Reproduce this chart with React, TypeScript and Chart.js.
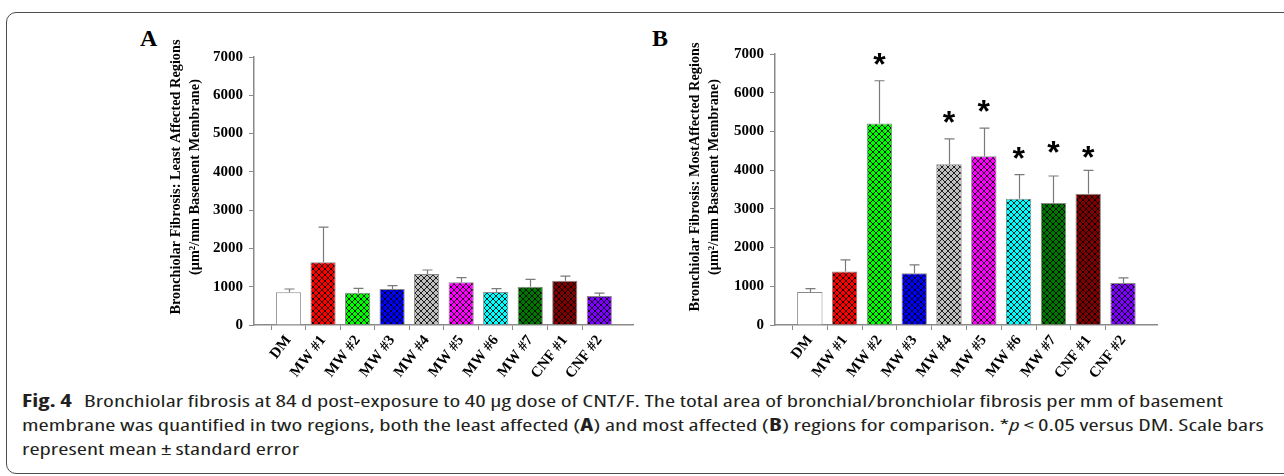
import React, { useEffect, useLayoutEffect, useRef } from 'react';
import { Chart, registerables } from 'chart.js';

Chart.register(...registerables);

// ---------------- data ----------------
const categories = ['DM', 'MW #1', 'MW #2', 'MW #3', 'MW #4', 'MW #5', 'MW #6', 'MW #7', 'CNF #1', 'CNF #2'];
const barColors = ['#ffffff', '#ff0000', '#00ff00', '#0000ff', '#c0c0c0', '#ff00ff', '#00ffff', '#007800', '#800000', '#8000ff'];
const yTickValues = [0, 1000, 2000, 3000, 4000, 5000, 6000, 7000];

// Panel A: least affected regions (mean, standard error)
const leastMeans = [854, 1637, 843, 940, 1332, 1115, 862, 1000, 1157, 757];
const leastSE = [86, 922, 115, 86, 104, 120, 86, 193, 122, 78];

// Panel B: most affected regions (mean, standard error)
const mostMeans = [854, 1382, 5203, 1338, 4152, 4359, 3262, 3150, 3391, 1087];
const mostSE = [88, 301, 1106, 215, 655, 725, 621, 699, 604, 130];
// level (in y units) of the significance asterisks, null = not significant
const mostStars: (number | null)[] = [null, null, 6880, null, 5380, 5660, 4450, 4610, 4460, null];

const titleA = ['Bronchiolar Fibrosis: Least Affected Regions', '(\u03bcm\u00b2/mm Basement Membrane)'];
const titleB = ['Bronchiolar Fibrosis: MostAffected Regions', '(\u03bcm\u00b2/mm Basement Membrane)'];

const SERIF = '"Liberation Serif", "Times New Roman", serif';
const CAPTION_FONT = '"Open Sans", "Noto Sans", sans-serif';

function hatch(color: string): CanvasPattern | string {
  const s = 6;
  const c = document.createElement('canvas');
  c.width = s;
  c.height = s;
  const g = c.getContext('2d');
  if (!g) return color;
  g.fillStyle = color;
  g.fillRect(0, 0, s, s);
  g.strokeStyle = 'rgba(0,0,0,0.85)';
  g.lineWidth = 1;
  g.beginPath();
  for (const k of [-s, 0, s]) {
    g.moveTo(-2 + k, -2);
    g.lineTo(s + 2 + k, s + 2);
    g.moveTo(s + 2 + k, -2);
    g.lineTo(-2 + k, s + 2);
  }
  g.stroke();
  return g.createPattern(c, 'repeat') || color;
}

type PanelProps = {
  means: number[];
  se: number[];
  stars?: (number | null)[];
  title: string[];
  left: number;
  top: number;
  width: number;
  height: number;
  padTop: number;
  axisHeight: number;
  titleX: number;
  titleY: number;
};

function BarPanel(p: PanelProps) {
  const ref = useRef<HTMLCanvasElement>(null);
  useEffect(() => {
    const canvas = ref.current;
    if (!canvas) return;
    const pad = <T,>(a: T[]) => [null, ...a, null];
    const labels = ['', ...categories, ''];
    const bg = ['rgba(0,0,0,0)', ...barColors.map((c, i) => (i === 0 ? c : hatch(c))), 'rgba(0,0,0,0)'];
    const seP = pad(p.se);
    const starsP = pad(p.stars || categories.map(() => null));

    const decorations = {
      id: 'decorations',
      afterDatasetsDraw(chart: any) {
        const ctx = chart.ctx as CanvasRenderingContext2D;
        const y = chart.scales.y;
        const meta = chart.getDatasetMeta(0);
        const data = chart.data.datasets[0].data as (number | null)[];
        ctx.save();
        ctx.strokeStyle = '#7a7a7a';
        ctx.lineWidth = 1.2;
        meta.data.forEach((bar: any, i: number) => {
          const v = data[i];
          const e = seP[i];
          if (v == null || e == null) return;
          const x = Math.round(bar.x) + 0.5;
          const y0 = y.getPixelForValue(v);
          const y1 = y.getPixelForValue(v + e);
          ctx.beginPath();
          ctx.moveTo(x, y0);
          ctx.lineTo(x, y1);
          ctx.moveTo(x - 5, y1);
          ctx.lineTo(x + 5, y1);
          ctx.stroke();
        });
        ctx.fillStyle = '#000';
        ctx.font = 'bold 32px "Liberation Sans", Arial, sans-serif';
        ctx.textAlign = 'center';
        ctx.textBaseline = 'alphabetic';
        const m = ctx.measureText('*');
        const shift = (m.actualBoundingBoxAscent - m.actualBoundingBoxDescent) / 2;
        meta.data.forEach((bar: any, i: number) => {
          const s = starsP[i];
          if (s == null) return;
          ctx.fillText('*', bar.x, y.getPixelForValue(s) + shift);
        });
        ctx.restore();
      },
      afterDraw(chart: any) {
        const ctx = chart.ctx as CanvasRenderingContext2D;
        ctx.save();
        ctx.translate(p.titleX, p.titleY);
        ctx.rotate(-Math.PI / 2);
        ctx.fillStyle = '#000';
        ctx.font = `bold 14.3px ${SERIF}`;
        ctx.textAlign = 'center';
        ctx.textBaseline = 'middle';
        p.title.forEach((t, i) => ctx.fillText(t, 0, i * 19));
        ctx.restore();
      },
    };

    const chart = new Chart(canvas, {
      type: 'bar',
      data: {
        labels,
        datasets: [
          {
            data: pad(p.means) as any,
            backgroundColor: bg as any,
            borderColor: '#8a8a8a',
            borderWidth: 1,
            barPercentage: 0.73,
            categoryPercentage: 1,
          },
        ],
      },
      options: {
        responsive: false,
        animation: false,
        devicePixelRatio: 1,
        layout: { padding: { top: p.padTop, right: 13, bottom: 0, left: 0 } },
        plugins: { legend: { display: false }, tooltip: { enabled: false }, title: { display: false } },
        scales: {
          x: {
            type: 'category',
            offset: false,
            afterFit: (s: any) => {
              s.height = p.axisHeight;
            },
            border: { display: true, color: '#8a8a8a', width: 1.5 },
            grid: {
              drawOnChartArea: false,
              drawTicks: true,
              tickLength: 5,
              color: (c: any) => (c.index === 0 || c.index === labels.length - 1 ? 'rgba(0,0,0,0)' : '#8a8a8a'),
            },
            ticks: {
              autoSkip: false,
              maxRotation: 52,
              minRotation: 52,
              padding: 2,
              color: '#000',
              font: { family: SERIF, size: 15, weight: 'bold' },
            },
          },
          y: {
            min: 0,
            max: 7000,
            afterFit: (s: any) => {
              s.width = 124;
            },
            afterBuildTicks: (s: any) => {
              s.ticks = yTickValues.map((v) => ({ value: v }));
            },
            border: { display: true, color: '#8a8a8a', width: 1.5 },
            grid: { drawOnChartArea: false, drawTicks: true, tickLength: 5, color: '#8a8a8a' },
            ticks: {
              padding: 6,
              color: '#000',
              font: { family: SERIF, size: 15, weight: 'bold' },
              callback: (v: any) => String(v),
            },
          },
        },
      },
      plugins: [decorations],
    });
    return () => chart.destroy();
  }, []);
  return (
    <canvas
      ref={ref}
      width={p.width}
      height={p.height}
      style={{ position: 'absolute', left: p.left, top: p.top, width: p.width, height: p.height }}
    />
  );
}

const captionLines = [
  <>
    <b>Fig. 4</b>
    {'\u2002Bronchiolar fibrosis at 84 d post-exposure to 40 \u03bcg dose of CNT/F. The total area of bronchial/bronchiolar fibrosis per mm of basement'}
  </>,
  <>
    {'membrane was quantified in two regions, both the least affected ('}
    <b>A</b>
    {') and most affected ('}
    <b>B</b>
    {') regions for comparison. *'}
    <i>p</i>
    {'\u2009<\u20090.05 versus DM. Scale bars'}
  </>,
  <>{'represent mean\u2009\u00b1\u2009standard error'}</>,
];
const captionCenters = [401, 425, 449];

function Caption() {
  const refs = useRef<(HTMLDivElement | null)[]>([]);
  useLayoutEffect(() => {
    const ref2 = refs.current[1];
    if (!ref2) return;
    const w = ref2.scrollWidth;
    const f = 1242 / w;
    refs.current.forEach((el) => {
      if (el) el.style.transform = `scaleX(${f})`;
    });
  }, []);
  return (
    <>
      {captionLines.map((line, i) => (
        <div
          key={i}
          ref={(el) => {
            refs.current[i] = el;
          }}
          style={{
            position: 'absolute',
            left: 22,
            top: captionCenters[i] - 10,
            height: 20,
            lineHeight: '20px',
            fontSize: 17,
            fontFamily: CAPTION_FONT,
            fontStretch: '75%',
            color: '#231f20',
            whiteSpace: 'nowrap',
            transformOrigin: '0 0',
            display: 'inline-block',
          }}
        >
          {line}
        </div>
      ))}
    </>
  );
}

export default function App() {
  return (
    <div
      style={{
        position: 'absolute',
        left: 0,
        top: 0,
        width: 1284,
        height: 476,
        overflow: 'hidden',
        background: '#fff',
      }}
    >
      <div
        style={{
          position: 'absolute',
          left: 6,
          top: 12,
          width: 1320,
          height: 462,
          border: '1.5px solid #4d4d4d',
          borderRadius: 10,
          boxSizing: 'border-box',
        }}
      />
      <div style={{ position: 'absolute', left: 140, top: 26, font: `bold 24px/24px ${SERIF}` }}>A</div>
      <div style={{ position: 'absolute', left: 652, top: 26, font: `bold 24px/24px ${SERIF}` }}>B</div>
      <BarPanel
        means={leastMeans}
        se={leastSE}
        title={titleA}
        left={130}
        top={20}
        width={520}
        height={360}
        padTop={37}
        axisHeight={55}
        titleX={46}
        titleY={157}
      />
      <BarPanel
        means={mostMeans}
        se={mostSE}
        stars={mostStars}
        title={titleB}
        left={651}
        top={20}
        width={523}
        height={360}
        padTop={34}
        axisHeight={55}
        titleX={44}
        titleY={157}
      />
      <Caption />
    </div>
  );
}
